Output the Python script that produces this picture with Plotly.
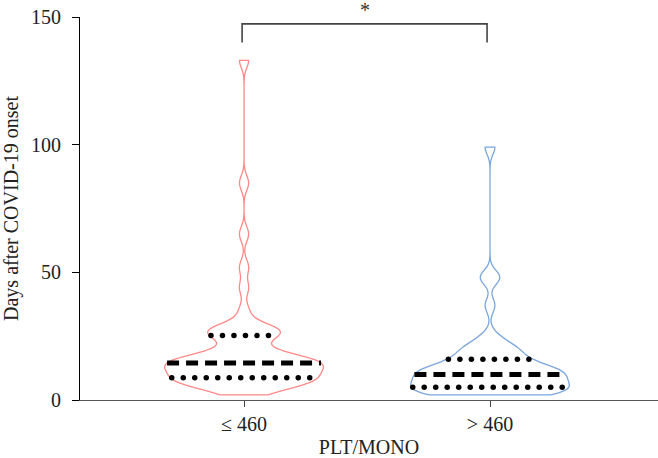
import numpy as np
import plotly.graph_objects as go

# ---------------- data ----------------
categories = ["≤ 460", "> 460"]
low_group = [2, 3, 4, 5, 6, 6, 7, 7, 8, 8, 8, 8, 8,
             9, 9, 10, 11, 11, 12, 12, 13, 13, 13, 14, 14, 14,
             15, 15, 15, 16, 16, 16, 17, 17, 18, 19, 21, 23, 25,
             26, 26, 27, 27, 28, 28, 29, 35, 44, 52, 65, 85, 133]
high_group = [2, 2, 2, 2, 2, 3, 3, 3, 4, 4, 5, 5,
              6, 6, 6, 7, 7, 8, 8, 9, 9, 10, 10,
              11, 11, 11, 12, 12, 12, 13, 13, 14, 15, 16,
              17, 18, 19, 20, 21, 22, 25, 37, 48, 48, 99]
groups = [low_group, high_group]
line_colors = ["#FF8888", "#7BA7DD"]
bandwidths = [2.9, 2.8]
y_ticks = [0, 50, 100, 150]
x_title = "PLT/MONO"
y_title = "Days after COVID-19 onset"
sig_label = "*"

# ---------------- layout constants ----------------
W, H = 658, 458
ML, MR, MT, MB = 80, 0, 17, 58
XR = [-0.667, 1.683]
YR = [0, 150]
VW = 0.645  # violin full width in x units
px_per_x = (W - ML - MR) / (XR[1] - XR[0])
FONT = "Liberation Serif"


def kde(vals, bw, grid):
    v = np.asarray(vals, float)
    u = (grid[:, None] - v[None, :]) / bw
    return np.exp(-0.5 * u * u).sum(axis=1)


fig = go.Figure()
for i, vals in enumerate(groups):
    fig.add_trace(go.Violin(
        x0=i, y=vals, name=categories[i], width=VW,
        spanmode="hard", bandwidth=bandwidths[i], scalemode="width",
        points=False, box_visible=False, meanline_visible=False,
        line=dict(color=line_colors[i], width=1.3),
        fillcolor="rgba(0,0,0,0)", hoverinfo="skip", showlegend=False,
    ))

    grid = np.linspace(min(vals), max(vals), 2000)
    dens = kde(vals, bandwidths[i], grid)
    dmax = dens.max()
    q1, med, q3 = np.percentile(vals, [25, 50, 75])

    def half_w(y):
        return VW / 2 * kde(vals, bandwidths[i], np.array([y]))[0] / dmax

    # median: dashed
    hw = half_w(med)
    fig.add_trace(go.Scatter(
        x=[i - hw, i + hw], y=[med, med], mode="lines",
        line=dict(color="black", width=5, dash="12px,7px"),
        hoverinfo="skip", showlegend=False))
    # quartiles: dotted
    spacing = 11.5 / px_per_x
    for q in (q1, q3):
        hw = half_w(q)
        xs = np.arange(i - hw + 1.5 / px_per_x, i + hw, spacing)
        fig.add_trace(go.Scatter(
            x=xs, y=[q] * len(xs), mode="markers",
            marker=dict(color="black", size=5.5, symbol="circle"),
            hoverinfo="skip", showlegend=False))

# significance bracket
fig.add_shape(type="path", xref="x", yref="y",
              path="M -0.008,140 L -0.008,147.3 L 0.988,147.3 L 0.988,140",
              line=dict(color="#444444", width=1.6))
fig.add_annotation(x=0.49, xref="x", y=1 + 7 / (H - MT - MB), yref="paper",
                   text=sig_label, showarrow=False, yanchor="middle",
                   font=dict(family=FONT, size=20, color="#333333"))

fig.update_layout(
    width=W, height=H,
    margin=dict(l=ML, r=MR, t=MT, b=MB, pad=0, autoexpand=False),
    paper_bgcolor="white", plot_bgcolor="white",
    font=dict(family=FONT, size=20, color="#222222"),
    showlegend=False,
    xaxis=dict(range=XR, tickmode="array", tickvals=[0, 1], ticktext=categories,
               ticks="outside", ticklen=6, tickcolor="#444444", tickwidth=1,
               showline=True, linecolor="#555555", linewidth=1.2,
               showgrid=False, zeroline=False, automargin=False,
               title=dict(text=x_title, standoff=18, font=dict(size=20))),
    yaxis=dict(range=YR, tickmode="array", tickvals=y_ticks,
               ticks="outside", ticklen=7, tickcolor="black", tickwidth=1,
               showline=True, linecolor="black", linewidth=1,
               showgrid=False, zeroline=False, ticklabelstandoff=7,
               automargin=False,
               title=dict(text=y_title, standoff=8, font=dict(size=20))),
)

fig.write_html("out.html")
